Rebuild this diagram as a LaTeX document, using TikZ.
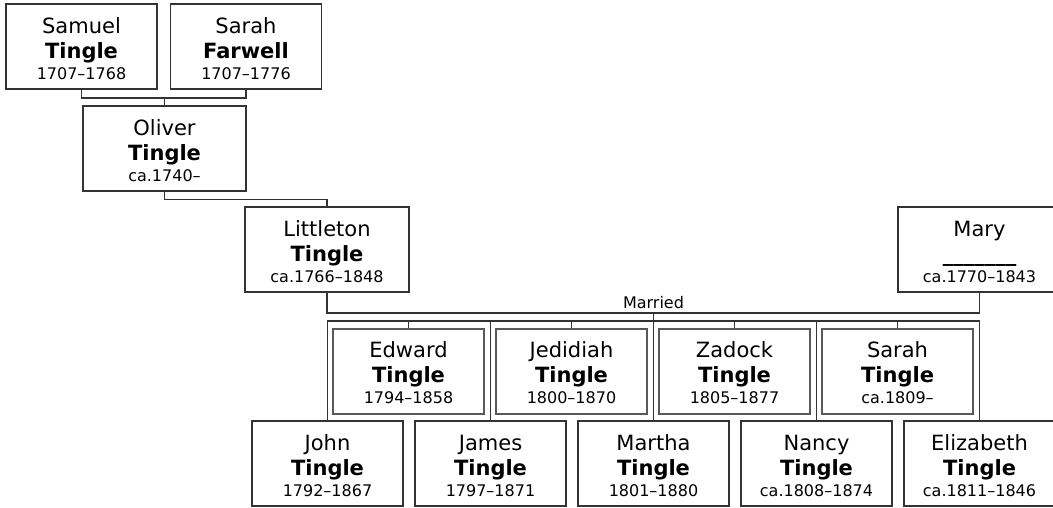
\documentclass[tikz,border=0pt]{standalone}
\usepackage{fontspec}
\setmainfont{DejaVu Sans}
\newcommand{\lifespan}[1]{\\[-4pt]{\fontsize{16pt}{19pt}\selectfont #1}}
\begin{document}
\begin{tikzpicture}[x=1pt,y=-1pt,
		person/.style={draw=black!80,line width=1.2pt,fill=white,minimum width=151pt,minimum height=85pt,
			inner sep=0pt,align=center,text height=66pt,font=\fontsize{21pt}{25pt}\selectfont},
		kid/.style={person,draw=black!65,line width=2pt},
		link/.style={draw=black!80,line width=1.2pt}]
		\useasboundingbox (0,0) rectangle (1053,508);
		% grandparents and parents
		\node[person] (samuel) at (81.5,46.5) {Samuel\\\textbf{Tingle}\lifespan{1707–1768}};
		\node[person] (farwell) at (246,46.5) {Sarah\\\textbf{Farwell}\lifespan{1707–1776}};
		\node[person,minimum width=163pt] (oliver) at (164.5,148.5) {Oliver\\\textbf{Tingle}\lifespan{ca.1740–}};
		\node[person,minimum width=164pt] (littleton) at (327,249.5) {Littleton\\\textbf{Tingle}\lifespan{ca.1766–1848}};
		\node[person,minimum width=163pt] (mary) at (979.5,249.5) {Mary\\\textbf{\_\_\_\_\_\_\_}\lifespan{ca.1770–1843}};
		% children, upper row
		\node[kid] (edward) at (408.5,371) {Edward\\\textbf{Tingle}\lifespan{1794–1858}};
		\node[kid] (jedidiah) at (571.5,371) {Jedidiah\\\textbf{Tingle}\lifespan{1800–1870}};
		\node[kid] (zadock) at (734.5,371) {Zadock\\\textbf{Tingle}\lifespan{1805–1877}};
		\node[kid] (sarah) at (897.5,371) {Sarah\\\textbf{Tingle}\lifespan{ca.1809–}};
		% children, lower row
		\node[person] (john) at (327.5,463.5) {John\\\textbf{Tingle}\lifespan{1792–1867}};
		\node[person] (james) at (490.5,463.5) {James\\\textbf{Tingle}\lifespan{1797–1871}};
		\node[person] (martha) at (653.5,463.5) {Martha\\\textbf{Tingle}\lifespan{1801–1880}};
		\node[person] (nancy) at (816.5,463.5) {Nancy\\\textbf{Tingle}\lifespan{ca.1808–1874}};
		\node[person] (elizabeth) at (979.5,463.5) {Elizabeth\\\textbf{Tingle}\lifespan{ca.1811–1846}};
		% lines
		\coordinate (pair) at (164.5,98);
		\draw[link] (samuel.south) |- (pair) -| (farwell.south);
		\draw[link] (pair) -- (oliver.north);
		\draw[link] (oliver.south) -- ++(0,8) -| (littleton.north);
		\coordinate (married) at (653.5,313);
		\draw[link] (littleton.south) |- (married) -| (mary.south);
		\node[anchor=base,font=\fontsize{16pt}{19pt}\selectfont] (marriedlabel) at (653.5,308) {Married};
		\coordinate (bar) at (653.5,321);
		\draw[link] (married) -- (bar);
		\draw[link] (john.north) |- (bar) -| (elizabeth.north);
		\foreach \n in {james,martha,nancy,edward,jedidiah,zadock,sarah}
			\draw[link] (\n.north) -- (\n.north |- bar);
	\end{tikzpicture}
\end{document}
